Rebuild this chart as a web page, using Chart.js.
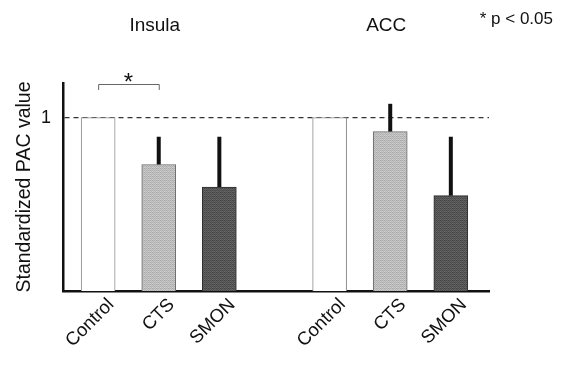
<!DOCTYPE html>
<html>
<head>
<meta charset="utf-8">
<script src="https://cdn.jsdelivr.net/npm/chart.js@4/dist/chart.umd.min.js"></script>
<style>
  html, body { margin: 0; padding: 0; background: #fff; }
  #wrap { width: 564px; height: 365px; }
</style>
</head>
<body>
<div id="wrap"><canvas id="c" width="564" height="365"></canvas></div>
<script>
// Regions (groups) and conditions within each region
const groups = ['Insula', 'ACC'];
const conditions = ['Control', 'CTS', 'SMON'];

// Standardized PAC value, mean and upper error per condition
const insulaMean = [1, 0.73, 0.60];
const insulaErr  = [0, 0.16, 0.29];
const accMean    = [1, 0.92, 0.55];
const accErr     = [0, 0.16, 0.34];

// Y tick labels
const yTicks = [1];

// Significant pairs (condition indexes inside a group)
const significance = [{ group: 0, from: 0, to: 1, mark: '*' }];
const noteText = '* p < 0.05';

const means = [insulaMean, accMean];
const errs = [insulaErr, accErr];

// Layout of the index axis: conditions are one unit apart, groups GROUP_STEP apart
const GROUP_STEP = 3.82;
const X_MIN = -0.58;
const X_MAX = 6.45;

const FONT = 'Liberation Sans, Arial, Helvetica, sans-serif';

// Screen-tone fill: a small ordered-dither tile around a base grey
function screenTone(base, spread) {
  const order = [0, 8, 2, 10, 12, 4, 14, 6, 3, 11, 1, 9, 15, 7, 13, 5];
  const tile = document.createElement('canvas');
  tile.width = 4; tile.height = 4;
  const t = tile.getContext('2d');
  for (let i = 0; i < 16; i++) {
    const g = Math.round(base + ((order[i] / 15) - 0.5) * spread);
    t.fillStyle = `rgb(${g},${g},${g})`;
    t.fillRect(i % 4, Math.floor(i / 4), 1, 1);
  }
  return t.createPattern(tile, 'repeat');
}

const fills   = ['#ffffff', screenTone(188, 40), screenTone(86, 40)];
const borders = ['#8c8c8c', '#6c6c6c', '#2e2e2e'];

const datasets = conditions.map((cond, ci) => ({
  label: cond,
  data: groups.map((g, gi) => ({ x: gi * GROUP_STEP + ci, y: means[gi][ci] })),
  errors: groups.map((g, gi) => errs[gi][ci]),
  backgroundColor: fills[ci],
  borderColor: borders[ci],
  borderWidth: 1,
  borderSkipped: 'start',
  barThickness: 34,
  grouped: false
}));

const tickPositions = groups.flatMap((g, gi) => conditions.map((c, ci) => gi * GROUP_STEP + ci));
const tickLabels = groups.flatMap(() => conditions);
const groupCenters = groups.map((g, gi) => gi * GROUP_STEP + (conditions.length - 1) / 2);

// Upward error bars
const errorBars = {
  id: 'errorBars',
  afterDatasetsDraw(chart) {
    const { ctx } = chart;
    const y = chart.scales.y;
    ctx.save();
    ctx.strokeStyle = '#111';
    ctx.lineWidth = 4;
    chart.data.datasets.forEach((ds, di) => {
      const meta = chart.getDatasetMeta(di);
      meta.data.forEach((bar, i) => {
        const e = ds.errors[i];
        if (!e) return;
        const v = ds.data[i].y;
        ctx.beginPath();
        ctx.moveTo(bar.x, y.getPixelForValue(v));
        ctx.lineTo(bar.x, y.getPixelForValue(v + e));
        ctx.stroke();
      });
    });
    ctx.restore();
  }
};

// Significance bracket and p-value note
const annotations = {
  id: 'annotations',
  afterDraw(chart) {
    const { ctx } = chart;
    const x = chart.scales.x;
    const y = chart.scales.y;
    const top = y.getPixelForValue(y.max);
    ctx.save();
    significance.forEach(s => {
      const x1 = x.getPixelForValue(s.group * GROUP_STEP + s.from);
      const x2 = x.getPixelForValue(s.group * GROUP_STEP + s.to);
      ctx.strokeStyle = '#666';
      ctx.lineWidth = 1;
      ctx.beginPath();
      ctx.moveTo(x1 + 0.5, top + 7);
      ctx.lineTo(x1 + 0.5, top + 1.5);
      ctx.lineTo(x2 + 0.5, top + 1.5);
      ctx.lineTo(x2 + 0.5, top + 7);
      ctx.stroke();
      ctx.fillStyle = '#111';
      ctx.font = '24px ' + FONT;
      ctx.textAlign = 'center';
      ctx.textBaseline = 'alphabetic';
      ctx.fillText(s.mark, (x1 + x2) / 2, top + 7);
    });
    ctx.fillStyle = '#111';
    ctx.font = '17px ' + FONT;
    ctx.textAlign = 'right';
    ctx.textBaseline = 'alphabetic';
    ctx.fillText(noteText, 553, 24);
    ctx.restore();
  }
};

new Chart(document.getElementById('c'), {
  type: 'bar',
  data: { datasets },
  plugins: [errorBars, annotations],
  options: {
    responsive: false,
    animation: false,
    layout: { padding: { top: 0, left: 0, right: 75, bottom: 0 } },
    plugins: { legend: { display: false }, tooltip: { enabled: false }, title: { display: false } },
    scales: {
      x: {
        type: 'linear',
        position: 'bottom',
        min: X_MIN,
        max: X_MAX,
        offset: false,
        afterBuildTicks(scale) { scale.ticks = tickPositions.map(v => ({ value: v })); },
        afterFit(scale) { scale.height = 74; },
        grid: { display: false, drawTicks: false },
        border: { display: true, color: '#111', width: 2.5 },
        ticks: {
          autoSkip: false,
          maxRotation: 45,
          minRotation: 45,
          padding: 3,
          labelOffset: 13,
          color: '#111',
          font: { family: FONT, size: 18.5 },
          callback: (v, i) => tickLabels[i]
        }
      },
      xTop: {
        type: 'linear',
        position: 'top',
        min: X_MIN,
        max: X_MAX,
        offset: false,
        afterBuildTicks(scale) { scale.ticks = groupCenters.map(v => ({ value: v })); },
        afterFit(scale) { scale.height = 83; },
        grid: { display: false, drawTicks: false },
        border: { display: false },
        ticks: {
          autoSkip: false,
          maxRotation: 0,
          padding: 46,
          labelOffset: -4,
          color: '#111',
          font: { family: FONT, size: 19 },
          callback: (v, i) => groups[i]
        }
      },
      y: {
        type: 'linear',
        min: 0,
        max: 1.2,
        afterBuildTicks(scale) { scale.ticks = yTicks.map(v => ({ value: v })); },
        afterFit(scale) { scale.width = 63; },
        grid: { display: true, drawTicks: false, color: '#333', lineWidth: 1.3 },
        border: { display: true, color: '#111', width: 2.5, dash: [5, 4] },
        ticks: {
          padding: 12,
          color: '#111',
          font: { family: FONT, size: 18 },
          callback: v => String(v)
        },
        title: {
          display: true,
          text: 'Standardized PAC value',
          color: '#111',
          font: { family: FONT, size: 19.5 },
          padding: { top: 13, bottom: 0 }
        }
      }
    }
  }
});
</script>
</body>
</html>
